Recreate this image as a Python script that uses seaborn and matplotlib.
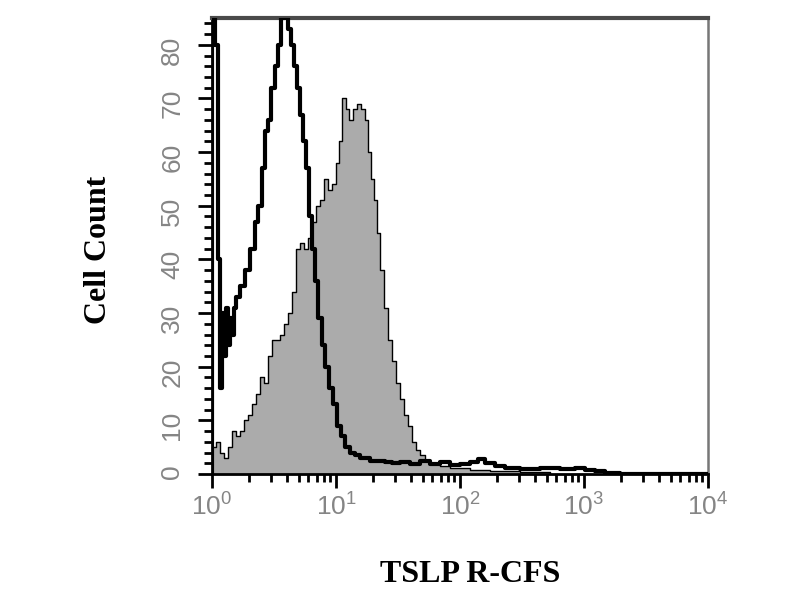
import numpy as np
import matplotlib
matplotlib.use("Agg")
import matplotlib.pyplot as plt
import seaborn as sns
from matplotlib.ticker import LogLocator, MultipleLocator, LogFormatterMathtext, NullFormatter

# ---- data (log10 of fluorescence = left edge of each step, cell count) ----
black_log = [0.000, 0.000, 0.024, 0.050, 0.065, 0.081, 0.097, 0.113, 0.129, 0.145, 0.161,
             0.177, 0.194, 0.226, 0.266, 0.306,
             0.347, 0.371, 0.403, 0.427, 0.452, 0.476, 0.508, 0.532, 0.556, 0.589, 0.613,
             0.637, 0.661, 0.685, 0.710, 0.734, 0.758, 0.782, 0.806, 0.831, 0.855, 0.887,
             0.911, 0.944, 0.976, 1.008, 1.040, 1.073, 1.113, 1.153, 1.194, 1.274, 1.395,
             1.452, 1.516, 1.597, 1.677, 1.758, 1.839, 1.919, 2.000, 2.081, 2.145, 2.202,
             2.282, 2.363, 2.484, 2.645, 2.806, 2.927, 3.008, 3.089, 3.169, 3.290, 4.000]
black_count = [0, 95, 80, 40, 16, 30, 22, 31, 24, 29, 26,
               31, 33, 35, 38, 42,
               47, 50, 57, 64, 66, 72, 76, 80, 85, 86, 83,
               80, 76, 72, 67, 62, 57, 48, 42, 36, 29, 24,
               20, 16, 13, 9, 7, 5, 4, 3.5, 3, 2.5, 2.2,
               2.0, 2.3, 1.8, 2.4, 1.9, 2.2, 1.6, 1.8, 2.2, 2.8, 2.0,
               1.5, 1.2, 1.0, 1.1, 0.9, 1.2, 0.8, 0.5, 0.2, 0.0, 0.0]

grey_log = [0.000, 0.032, 0.065, 0.097, 0.129, 0.161, 0.194, 0.226, 0.258, 0.290, 0.323,
            0.355, 0.387, 0.419, 0.452, 0.484, 0.516, 0.548, 0.581, 0.613, 0.645, 0.677,
            0.710, 0.742, 0.774, 0.806, 0.839, 0.871, 0.903, 0.935, 0.968, 1.000, 1.024,
            1.048, 1.081, 1.105, 1.137, 1.169, 1.202, 1.234, 1.258, 1.282, 1.306, 1.331,
            1.355, 1.387, 1.419, 1.452, 1.484, 1.516, 1.548, 1.581, 1.613, 1.645, 1.677,
            1.718, 1.758, 1.839, 1.919, 2.081, 2.242, 2.484, 2.726]
grey_count = [5, 6, 4, 3, 5, 8, 7, 8, 10, 11, 13,
              15, 18, 17, 22, 25, 25, 26, 28, 30, 34, 42,
              43, 42, 44, 47, 50, 51, 55, 53, 54, 58, 62,
              70, 68, 66, 68, 69, 68, 66, 60, 55, 51, 45,
              38, 31, 25, 21, 17, 14, 11, 9, 6, 4.5, 3.5,
              2.5, 2.0, 1.5, 1.2, 0.8, 0.5, 0.3, 0.0]

x_limits = (1, 1e4)
y_limits = (0, 85)
x_label = "TSLP R-CFS"
y_label = "Cell Count"

# ---- style ----
sns.set_style("ticks")
plt.rcParams["font.family"] = ["Liberation Sans", "DejaVu Sans"]
plt.rcParams["mathtext.default"] = "regular"

fig = plt.figure(figsize=(8, 6), dpi=100)
ax = fig.add_axes([0.265, 0.21, 0.62, 0.76])
ax.set_xscale("log")

bx = 10 ** np.array(black_log)
gx = 10 ** np.array(grey_log)

ax.fill_between(gx, grey_count, step="post", color="#ababab", lw=0, zorder=1)
sns.lineplot(x=gx, y=grey_count, drawstyle="steps-post", color="black", lw=1.0,
             estimator=None, sort=False, ax=ax, zorder=2)
sns.lineplot(x=bx, y=black_count, drawstyle="steps-post", color="black", lw=3.0,
             estimator=None, sort=False, ax=ax, zorder=3)

ax.set_xlim(*x_limits)
ax.set_ylim(*y_limits)

ax.xaxis.set_major_locator(LogLocator(base=10, numticks=10))
ax.xaxis.set_minor_locator(LogLocator(base=10, subs=np.arange(2, 10), numticks=20))
ax.xaxis.set_major_formatter(LogFormatterMathtext())
ax.xaxis.set_minor_formatter(NullFormatter())
ax.yaxis.set_major_locator(MultipleLocator(10))
ax.yaxis.set_minor_locator(MultipleLocator(2))

ax.tick_params(axis="both", which="major", direction="out", length=10, width=2,
               color="black", labelsize=19, labelcolor="#858585")
ax.tick_params(axis="both", which="minor", direction="out", length=6, width=2, color="black")
ax.tick_params(axis="y", which="major", labelrotation=90, pad=10)
ax.tick_params(axis="x", which="major", pad=4)

ax.set_xlabel("")
ax.set_ylabel("")

for side, col, lw in [("top", "#4a4a4a", 3.0), ("right", "#777777", 1.8),
                      ("left", "black", 2.0), ("bottom", "black", 2.0)]:
    ax.spines[side].set_visible(True)
    ax.spines[side].set_color(col)
    ax.spines[side].set_linewidth(lw)

fig.text(470 / 800, 1 - 575 / 600, x_label, ha="center", va="center", fontsize=23,
         fontweight="bold", color="black", family=["Liberation Serif", "DejaVu Serif"])
fig.text(99 / 800, 1 - 250 / 600, y_label, ha="center", va="center", rotation=90, fontsize=23,
         fontweight="bold", color="black", family=["Liberation Serif", "DejaVu Serif"])

fig.savefig("out.png", dpi=100)
